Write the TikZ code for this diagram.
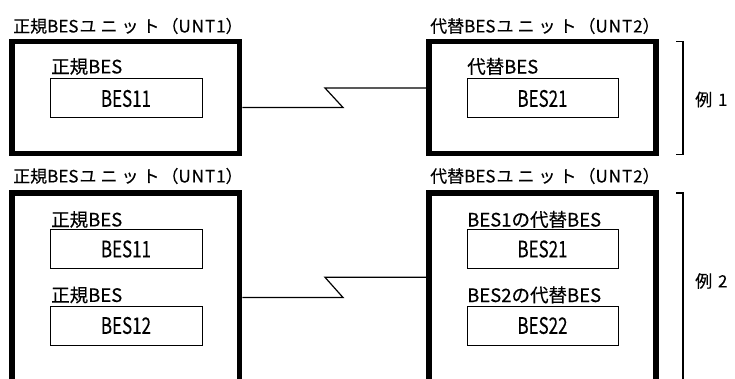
\documentclass[tikz,border=0pt]{standalone}
\usepackage{fontspec}
\setmainfont{Noto Sans CJK JP}[FakeBold=0.3]
\usepackage{graphicx}
\newcommand\tallbes[1]{\scalebox{0.97}[1.3]{#1}}
\newcommand\gk{\kern4pt}
\newcommand\gu{\kern1pt}
\newcommand\unitlab[2]{#1BES\kern1pt ユ\gk ニ\gk ッ\gk ト\kern2pt （U\gu N\gu T\gu #2）}
\begin{document}
\begin{tikzpicture}[x=1pt,y=1pt,
  unitlbl/.style={anchor=west,inner sep=0pt,font=\fontsize{17pt}{19pt}\selectfont},
  sublbl/.style={anchor=west,inner sep=0pt,font=\fontsize{18.5pt}{20pt}\selectfont},
  unitbox/.style={draw,line width=5.7pt,inner sep=0pt,minimum width=227.5pt},
  besbox/.style={draw,line width=1pt,inner sep=0pt,minimum width=152pt,minimum height=39pt,font=\fontsize{17.5pt}{19pt}\selectfont},
  conn/.style={line width=1.2pt},
  brk/.style={line width=1.2pt},
  exlbl/.style={anchor=west,inner sep=0pt,font=\fontsize{17pt}{19pt}\selectfont}]
\useasboundingbox (0,0) rectangle (735,378);
\clip (0,0) rectangle (735,378);
% ---- example 1
\node[unitlbl] (u1) at (13,352) {\unitlab{正規}{1}};
\node[unitbox,minimum height=112pt] (L1) at (125.75,280.5) {};
\node[sublbl] (l1s) at (51,311.5) {正規BES};
\node[besbox] (b11) at (126,279.5) {\tallbes{BES11}};
\node[unitlbl] (u2) at (430,352) {\unitlab{代替}{2}};
\node[unitbox,minimum width=227pt,minimum height=112pt] (R1) at (542.5,280.5) {};
\node[sublbl] (r1s) at (467,311.5) {代替BES};
\node[besbox,minimum width=151pt] (b21) at (542.5,279.5) {\tallbes{BES21}};
\coordinate (z1a) at (343,270.5);
\coordinate (z1b) at (325,290);
\draw[conn] ([yshift=-10pt]L1.east) -- (z1a) -- (z1b) -- ([yshift=9.5pt]R1.west);
\coordinate (k1a) at (676,336.3);
\coordinate (k1b) at (683,336.3);
\coordinate (k1c) at (683,223.7);
\coordinate (k1d) at (676,223.7);
\draw[brk] (k1a) -- (k1b) -- (k1c) -- (k1d);
\node[exlbl] (e1) at (695,278.5) {例 \kern2pt 1};
% ---- example 2
\node[unitlbl] (u3) at (13,202) {\unitlab{正規}{1}};
\node[unitbox,minimum height=204.7pt] (L2) at (125.75,82.35) {};
\node[sublbl] (l2s1) at (51,158.5) {正規BES};
\node[besbox] (b11x) at (126,129) {\tallbes{BES11}};
\node[sublbl] (l2s2) at (51,83) {正規BES};
\node[besbox] (b12) at (126,52.5) {\tallbes{BES12}};
\node[unitlbl] (u4) at (430,202) {\unitlab{代替}{2}};
\node[unitbox,minimum width=227pt,minimum height=204.7pt] (R2) at (542.5,82.35) {};
\node[sublbl] (r2s1) at (467,158.5) {BES1の代替BES};
\node[besbox,minimum width=151pt] (b21x) at (542.5,129) {\tallbes{BES21}};
\node[sublbl] (r2s2) at (467,83) {BES2の代替BES};
\node[besbox,minimum width=151pt] (b22) at (542.5,52.5) {\tallbes{BES22}};
\coordinate (z2a) at (343,80.5);
\coordinate (z2b) at (325,100.7);
\draw[conn] ([yshift=-1.85pt]L2.east) -- (z2a) -- (z2b) -- ([yshift=18.35pt]R2.west);
\coordinate (k2a) at (676,185);
\coordinate (k2b) at (683,185);
\coordinate (k2c) at (683,-20);
\draw[brk] (k2a) -- (k2b) -- (k2c);
\node[exlbl] (e2) at (695,97) {例 \kern2pt 2};
\end{tikzpicture}
\end{document}
